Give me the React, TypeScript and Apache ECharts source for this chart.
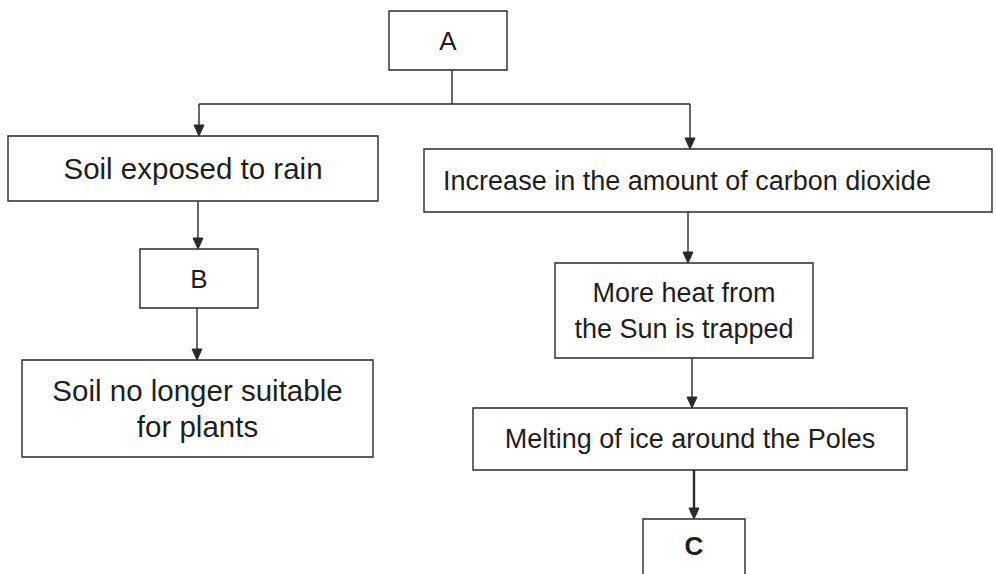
import React, { useEffect, useRef } from "react";
import * as echarts from "echarts";

// Node texts of the flow chart
const nodeIds = ["A", "rain", "B", "plants", "co2", "heat", "melt", "C"];
const nodeTexts = [
  "A",
  "Soil exposed to rain",
  "B",
  "Soil no longer suitable\nfor plants",
  "Increase in the amount of carbon dioxide",
  "More heat from\nthe Sun is trapped",
  "Melting of ice around the Poles",
  "C",
];
// Which nodes are single letters (placeholders)
const letterNodes = ["A", "B", "C"];
// Links (from -> to)
const linkFrom = ["A", "A", "rain", "B", "co2", "heat", "melt"];
const linkTo = ["rain", "co2", "B", "plants", "heat", "melt", "C"];

// Layout (pixel boxes) kept separate from the content
const layout: Record<string, { x: number; y: number; w: number; h: number; tx?: number; fs?: number; dy?: number }> = {
  A: { x: 389, y: 11, w: 118, h: 59, dy: 0 },
  rain: { x: 8, y: 136, w: 370, h: 65, fs: 29.5 },
  B: { x: 140, y: 249, w: 118, h: 59 },
  plants: { x: 22, y: 360, w: 351, h: 97, fs: 29.5 },
  co2: { x: 424, y: 149, w: 568, h: 63, tx: 687 },
  heat: { x: 555, y: 263, w: 258, h: 95 },
  melt: { x: 473, y: 408, w: 434, h: 62 },
  C: { x: 643, y: 519, w: 102, h: 62, dy: -4 },
};

const STROKE = "#2a2a2a";
const TEXT = "#1e1e1e";
const FONT = "'Liberation Sans', Arial, Helvetica, sans-serif";

function buildGraphics() {
  const els: any[] = [];
  // boxes + texts
  nodeIds.forEach((id, i) => {
    const b = layout[id];
    els.push({
      type: "rect",
      shape: { x: b.x, y: b.y, width: b.w, height: b.h },
      style: { fill: "#fff", stroke: STROKE, lineWidth: 1.4 },
      z: 1,
    });
    const isLetter = letterNodes.includes(id);
    els.push({
      type: "text",
      x: b.tx ?? b.x + b.w / 2,
      y: b.y + b.h / 2 + (b.dy ?? 0),
      style: {
        text: nodeTexts[i],
        fill: TEXT,
        fontFamily: FONT,
        fontSize: b.fs ?? (isLetter ? 26 : 27),
        fontWeight: id === "C" ? "bold" : "normal",
        lineHeight: 36,
        align: "center",
        verticalAlign: "middle",
      },
      z: 2,
    });
  });

  // connectors
  const arrow = (x: number, y1: number, y2: number, lw = 1.4) => {
    els.push({
      type: "line",
      shape: { x1: x, y1, x2: x, y2: y2 - 8 },
      style: { stroke: STROKE, lineWidth: lw },
      z: 3,
    });
    els.push({
      type: "polygon",
      shape: { points: [[x - 5, y2 - 11], [x + 5, y2 - 11], [x, y2]] },
      style: { fill: STROKE, stroke: STROKE, lineWidth: 1 },
      z: 3,
    });
  };

  const A = layout.A;
  const busY = 104;
  const aX = 452;
  els.push({
    type: "line",
    shape: { x1: aX, y1: A.y + A.h, x2: aX, y2: busY },
    style: { stroke: STROKE, lineWidth: 1.4 },
    z: 3,
  });
  // bus from left child to right child
  const childX: Record<string, number> = { rain: 199, co2: 690 };
  els.push({
    type: "line",
    shape: { x1: childX.rain, y1: busY, x2: childX.co2, y2: busY },
    style: { stroke: STROKE, lineWidth: 1.4 },
    z: 3,
  });

  const linkX: Record<string, number> = {
    "A-rain": 199,
    "A-co2": 690,
    "rain-B": 198,
    "B-plants": 197,
    "co2-heat": 688,
    "heat-melt": 692,
    "melt-C": 694,
  };
  linkFrom.forEach((f, i) => {
    const t = linkTo[i];
    const key = f + "-" + t;
    const x = linkX[key];
    const from = layout[f];
    const to = layout[t];
    const y1 = f === "A" ? busY : from.y + from.h;
    arrow(x, y1, to.y, t === "C" ? 2.4 : 1.4);
  });
  return els;
}

export default function App() {
  const ref = useRef<HTMLDivElement>(null);
  useEffect(() => {
    if (!ref.current) return;
    const chart = echarts.init(ref.current, undefined, { renderer: "svg" });
    chart.setOption({
      animation: false,
      backgroundColor: "#ffffff",
      graphic: buildGraphics(),
    });
    return () => chart.dispose();
  }, []);
  return (
    <div
      ref={ref}
      style={{ position: "fixed", left: 0, top: 0, width: 996, height: 574, background: "#fff" }}
    />
  );
}
